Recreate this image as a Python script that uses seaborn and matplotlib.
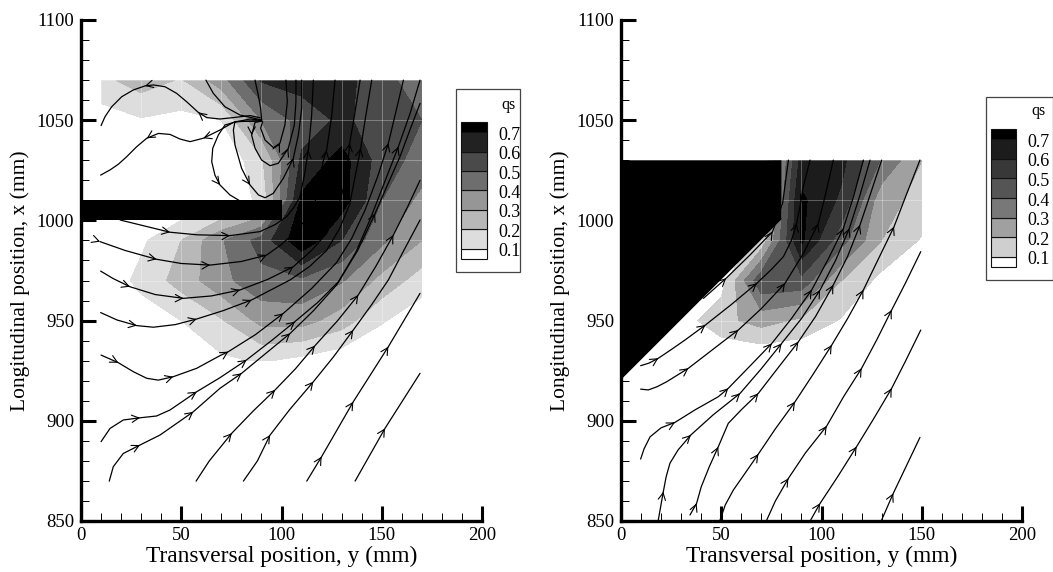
import numpy as np
import matplotlib
matplotlib.use("Agg")
import matplotlib.pyplot as plt
from matplotlib.patches import Polygon, Rectangle
import pandas as pd
import seaborn as sns

levels = [0.0, 0.1, 0.2, 0.3, 0.4, 0.5, 0.6, 0.7, 1.0]
level_labels = ["0.1", "0.2", "0.3", "0.4", "0.5", "0.6", "0.7"]
left_greys = ["#ffffff", "#dddddd", "#b8b8b8", "#969696", "#6e6e6e", "#4a4a4a", "#222222", "#000000"]
right_greys = ["#ffffff", "#cfcfcf", "#a0a0a0", "#787878", "#555555", "#383838", "#1c1c1c", "#000000"]

left_cols = [10, 30, 50, 70, 90, 110, 130, 150, 170]
left_rows = [1070, 1050, 1030, 1010, 990, 970, 950, 930]
left_qs = [
    [.17, .25, .19, .36, .61, .64, .63, .55, .42],
    [.05, .09, .07, .10, .40, .54, .62, .55, .50],
    [.00, .00, .00, .00, .18, .62, .74, .55, .46],
    [.00, .00, .00, .03, .12, .72, .75, .50, .37],
    [.00, .08, .20, .39, .54, .78, .60, .42, .30],
    [.02, .13, .24, .37, .47, .48, .41, .27, .15],
    [.00, .04, .10, .19, .33, .34, .25, .11, .03],
    [.00, .00, .00, .08, .11, .07, .03, .00, .00],
]

right_cols = [10, 30, 50, 70, 90, 110, 130, 150]
right_rows = [1030, 1010, 990, 970, 950, 930]
right_qs = [
    [.00, .00, .00, .00, .64, .63, .39, .20],
    [.00, .00, .00, .00, .72, .58, .235, .17],
    [.00, .00, .00, .12, .72, .44, .20, .09],
    [.00, .00, .05, .48, .47, .20, .07, .02],
    [.00, .05, .17, .24, .18, .09, .02, .00],
    [.00, .00, .00, .00, .00, .00, .00, .00],
]

left_block = [(0, 1000), (100, 1000), (100, 1010), (0, 1010)]
right_block = [(0, 1030), (80, 1030), (80, 1000.5), (0, 920.5)]

# streamlines as (y, x), arrows hold the index of the points that carry a head
left_s1 = [(89.3, 1051.2), (84.3, 1052.3), (76, 1051.3), (69.3, 1050.6), (62.7, 1051.3), (58.5, 1053.9),
           (52.7, 1059.2), (47.7, 1063.4), (41.9, 1066.7), (36.1, 1067.6), (31.9, 1067.1), (26.1, 1065.1),
           (20.3, 1061.7), (15.3, 1056.7), (12, 1051.8), (10, 1047.3)]
left_s2 = [(90.1, 1050), (84.3, 1050.6), (76, 1048.9), (69.3, 1045.1), (61, 1041), (54.4, 1039.3), (49.4, 1040.6),
           (44.4, 1042.9), (38.6, 1043.4), (32.8, 1041), (27.8, 1036.8), (22.8, 1031.8), (18.6, 1028),
           (14.5, 1025.2), (9.8, 1022.6)]
left_s3 = [(90.1, 1049.7), (77.6, 1049.3), (71.8, 1047.6), (68.5, 1042.6), (65.7, 1036), (65.2, 1029.3),
           (66.8, 1022.6), (69.3, 1017.7), (74.3, 1012.7), (79.3, 1009.7)]
left_s4 = [(90.1, 1049.7), (76.8, 1049.3), (76, 1045.1), (76.8, 1037.6), (80.1, 1026), (84.3, 1017.7),
           (88.5, 1012.7), (91.8, 1011.3), (95.9, 1013.5), (100.9, 1021), (105.9, 1031), (108.4, 1042.6),
           (110.1, 1056), (110.1, 1070)]
left_s5 = [(90.1, 1049.5), (86.8, 1048.9), (85.1, 1042.6), (86.8, 1036), (90.1, 1030.1), (94.3, 1027.3),
           (98.4, 1028.5), (103.4, 1036), (106.4, 1047.6), (107.2, 1059.2), (107.2, 1070)]
left_s6 = [(90.6, 1049.3), (89.6, 1046), (91.8, 1040.1), (96, 1036.3), (99.2, 1038.5), (101.7, 1047.6),
           (102.9, 1059.2), (102.2, 1070)]
left_s7 = [(90.1, 1050.1), (79.3, 1052.6), (71.8, 1056.7), (66, 1063.4), (62.3, 1070)]
left_s8 = [(90.1, 1050.1), (89.6, 1055.9), (88.4, 1062.6), (86.8, 1070)]
left_s9 = [(19.5, 1000.2), (44.4, 994.1), (58, 992.8), (74.3, 992.4), (89.3, 994.4), (97, 998), (102.6, 1001.9),
           (106.5, 1007), (109.2, 1011.8), (111.5, 1023), (113.4, 1035.1), (115, 1052), (115.9, 1070)]
left_s10 = [(9.5, 989.4), (22, 985), (37.7, 980.6), (50, 978.5), (64.4, 977.7), (80, 979.5), (92.6, 982.7),
            (100, 988), (105.9, 993.5), (111, 999), (115.9, 1005.2), (118.5, 1017), (120.9, 1030.1),
            (122.5, 1035), (125, 1052), (126.7, 1070)]
left_s11 = [(9.8, 974.7), (16, 971), (24.4, 966.9), (37, 963), (51.1, 961.1), (65, 962.3), (79.3, 965.3),
            (93, 970.5), (105.9, 976.9), (115, 985), (122.5, 993.5), (128, 1006), (132.5, 1021.8), (134, 1038.5),
            (136.5, 1053), (139.2, 1070)]
left_s12 = [(9.8, 954), (18, 950.3), (27.8, 947.5), (36.1, 946.7), (47, 948), (57.7, 950.8), (71, 955),
            (85.1, 960.3), (104.3, 970.3), (114, 977), (122.5, 985), (129, 996), (134, 1008), (139.5, 1036),
            (142, 1052), (145, 1070)]
left_s13 = [(10, 932.8), (18.6, 929), (26.1, 924.5), (32.8, 921.2), (38.6, 920.3), (46, 922), (57.7, 926.2),
            (69.3, 932.5), (73.5, 934.5), (87, 943), (100.9, 953.6), (115, 966), (127.5, 979), (135, 991),
            (141.7, 1005.2), (148, 1022), (153.3, 1038.5), (157, 1054), (160.8, 1070)]
left_s14 = [(10, 889.6), (14.5, 896.2), (21.1, 900.4), (29.4, 901.5), (37.7, 902.4), (44.4, 905.4), (57.7, 914.5),
            (69.3, 921.5), (82.6, 930.4), (95, 940), (106.7, 949.5), (118, 959), (128.4, 969.4), (137, 984),
            (144, 1000), (151, 1018), (158.3, 1036.8), (164, 1053), (169.1, 1070)]
left_s15 = [(14.1, 869.9), (16.1, 877.1), (21.1, 883.7), (29.4, 887.9), (39.4, 892.9), (56, 904.5), (69.3, 916.2),
            (80.1, 923.7), (92, 933.5), (104.3, 943.6), (116, 955), (127.5, 967.8), (138, 985), (146.7, 1003.5),
            (153, 1018), (159.1, 1031.8), (164, 1045), (169.1, 1058.4)]
left_s16 = [(57.4, 869.9), (64, 880), (75.2, 893.8), (86, 905), (96.8, 915.4), (107, 926), (116.7, 937.5),
            (128, 950), (138.3, 962.8), (147, 977), (155.8, 992.7), (163, 1007), (169.1, 1020)]
left_s17 = [(81, 869.9), (88, 880), (94.3, 892.9), (104, 905.5), (115.9, 919.5), (126, 932), (135.8, 945.3),
            (145, 958), (153.3, 970.3), (161, 985), (169.1, 1000.2)]
left_s18 = [(112.6, 869.9), (120, 882.1), (135.8, 909.5), (153.3, 937), (169.1, 963.6)]
left_s19 = [(136.7, 869.9), (151.6, 896.2), (169.1, 923.7)]

left_streams = [left_s1, left_s2, left_s3, left_s4, left_s5, left_s6, left_s7, left_s8, left_s9, left_s10,
                left_s11, left_s12, left_s13, left_s14, left_s15, left_s16, left_s17, left_s18, left_s19]
left_arrows = [[5, 10], [4, 9], [7], [5, 10], [2, 7], [4], [], [], [1, 3, 10], [0, 2, 4, 6, 13], [2, 4, 6, 8, 13],
               [2, 5, 7, 13], [1, 5, 8, 10, 16], [3, 6, 8, 10, 16], [3, 5, 7, 9, 13], [2, 4, 6, 8, 10], [2, 4, 6],
               [1, 2, 3], [1]]

right_s0 = [(41.1, 961.1), (52.4, 971.1), (64.3, 982.7), (75.6, 994.4), (80.6, 1008.5), (83.5, 1030.1)]
right_s1 = [(9.8, 927.5), (14, 928.8), (18.6, 931.2), (25, 935.5), (31.9, 940.3), (42.1, 947.8), (55, 958),
            (67.7, 968.6), (75, 975.5), (81, 981.9), (85, 990), (87.6, 998.5), (89.5, 1008), (90.9, 1016.8),
            (94.3, 1030.1)]
right_s2 = [(9.8, 915.8), (13.6, 915.4), (18, 917), (22.8, 919.5), (33.6, 926.2), (51.9, 940.3), (58.5, 945.3),
            (70, 956), (81.8, 968.6), (91, 983.6), (98.4, 998.5), (102, 1013), (105.9, 1030.1)]
right_s3 = [(9.8, 880.9), (11.5, 886), (14.5, 892), (20, 896.5), (26.9, 899.2), (37, 905.5), (48.5, 912),
            (53.5, 916.2), (64, 927), (75.2, 938.6), (85, 951), (95.1, 965.3), (103, 980), (110.9, 996),
            (116, 1012), (120.9, 1030.1)]
right_s4 = [(18.6, 850.5), (21.1, 864.6), (22.5, 872), (24.4, 878.8), (28.5, 885.5), (34.8, 892.9), (46, 903),
            (59.4, 913.7), (70, 926), (80.1, 938.6), (90, 951), (99.3, 965.3), (107, 980), (113.9, 996),
            (119, 1012), (124.2, 1030.1)]
right_s5 = [(34.4, 853), (37.7, 858.8), (40, 867), (44, 877), (48.5, 887), (53.5, 898.7), (60, 905.5),
            (68.5, 913.7), (78, 926), (88.5, 939.5), (97, 952), (105.9, 967.8), (113, 982), (119.2, 997.7),
            (124, 1012), (130, 1030.1)]
right_s6 = [(49.4, 850.5), (52, 858), (56, 865.4), (62, 874), (68.5, 883.4), (77, 896), (86.8, 909.5),
            (96, 923.5), (105.1, 937.8), (113, 951), (120.9, 965.3), (128, 980), (136.2, 996.9), (142, 1012),
            (149.1, 1030.1)]
right_s7 = [(72.7, 850.5), (77, 860), (83.5, 871.3), (92, 884), (102.6, 897.4), (111, 912), (120, 926.2),
            (127.5, 940.3), (135, 955.3), (142, 969), (149.5, 984.4)]
right_s8 = [(94.6, 850.5), (99.3, 858.8), (108, 872), (117.5, 887.1), (126, 901), (135, 916.2), (142, 930),
            (149.5, 945.3)]
right_s9 = [(130, 850.5), (135.8, 863.8), (149.1, 891.7)]

right_streams = [right_s0, right_s1, right_s2, right_s3, right_s4, right_s5, right_s6, right_s7, right_s8, right_s9]
right_arrows = [[1, 3], [2, 5, 7, 11], [4, 6, 8, 10], [4, 7, 9, 11, 13], [1, 5, 7, 9, 11, 13], [1, 4, 7, 9, 11, 13],
                [4, 6, 8, 10, 12], [2, 4, 6, 8], [1, 3, 5], [1]]

W, H = 1053, 572


def draw_panel(ax, cols, rows, qs, greys, block, streams, arrows):
    ax.patch.set_visible(False)
    ax.contourf(cols, rows, np.array(qs), levels=levels, colors=greys, zorder=1)
    ax.vlines(cols, rows[-1], rows[0], color="white", lw=0.7, alpha=0.3, zorder=2)
    ax.hlines(rows, cols[0], cols[-1], color="white", lw=0.7, alpha=0.3, zorder=2)
    ax.add_patch(Polygon(block, closed=True, fc="black", ec="none", zorder=3))

    for line, heads in zip(streams, arrows):
        df = pd.DataFrame(line, columns=["y", "x"])
        sns.lineplot(data=df, x="y", y="x", sort=False, estimator=None, color="black",
                     lw=0.9, ax=ax, zorder=4)
        for i in heads:
            a = line[max(i - 1, 0)]
            b = line[min(i + 1, len(line) - 1)]
            dy, dx = b[0] - a[0], b[1] - a[1]
            norm = np.hypot(dy, dx)
            tail = (line[i][0] - dy / norm, line[i][1] - dx / norm)
            ax.annotate("", xy=line[i], xytext=tail, zorder=5,
                        arrowprops=dict(arrowstyle="->,head_length=0.42,head_width=0.22",
                                        lw=0.8, color="black", mutation_scale=12,
                                        shrinkA=0, shrinkB=0))

    ax.set_xlim(0, 200)
    ax.set_ylim(850, 1100)
    ax.set_xticks(range(0, 201, 50))
    ax.set_yticks(range(850, 1101, 50))
    ax.set_xticks(range(0, 201, 10), minor=True)
    ax.set_yticks(range(850, 1101, 10), minor=True)
    ax.tick_params(which="major", direction="in", length=11, width=2.2, labelsize=13.5, pad=4, color="black")
    ax.tick_params(which="minor", direction="in", length=6, width=0.7, color="black")
    ax.tick_params(axis="y", pad=5)
    sns.despine(ax=ax)
    for side in ["left", "bottom"]:
        ax.spines[side].set_linewidth(2.4)
    ax.set_xlabel("Transversal position, y (mm)", fontsize=16.8)
    ax.set_ylabel("Longitudinal position, x (mm)", fontsize=15.5)
    ax.xaxis.set_label_coords(0.5, -0.05)
    ax.yaxis.set_label_coords(-0.128, 0.48)


def draw_key(fig, box, bar, greys, qs_pos, label_x):
    fig.add_artist(Rectangle((box[0] / W, 1 - box[3] / H), (box[2] - box[0]) / W, (box[3] - box[1]) / H,
                             transform=fig.transFigure, fc="white", ec="#444444", lw=0.9, zorder=-1))
    key = fig.add_axes([bar[0] / W, 1 - bar[3] / H, (bar[2] - bar[0]) / W, (bar[3] - bar[1]) / H])
    edges = [0.048, 0.1, 0.2, 0.3, 0.4, 0.5, 0.6, 0.7, 0.752]
    key.bar([0] * 8, np.diff(edges), bottom=edges[:-1], width=1, color=greys, edgecolor="#111111", lw=0.8,
            clip_on=False)
    key.set_xlim(-0.5, 0.5)
    key.set_ylim(edges[0], edges[-1])
    key.axis("off")
    for v, text in zip([0.1, 0.2, 0.3, 0.4, 0.5, 0.6, 0.7], level_labels):
        py = bar[3] - (v - edges[0]) / (edges[-1] - edges[0]) * (bar[3] - bar[1]) + 3
        fig.text(label_x / W, 1 - py / H, text, fontsize=13, va="center", ha="left")
    fig.text(qs_pos[0] / W, 1 - qs_pos[1] / H, "qs", fontsize=11.5, va="center", ha="center")


sns.set_theme(style="ticks", rc={"axes.edgecolor": "black", "xtick.color": "black", "ytick.color": "black",
                                 "text.color": "black", "axes.labelcolor": "black"})
plt.rcParams["font.family"] = ["Liberation Serif", "DejaVu Serif"]

fig = plt.figure(figsize=(W / 100, H / 100), dpi=100)
ax1 = fig.add_axes([81 / W, 1 - 521 / H, 401 / W, 501 / H])
ax2 = fig.add_axes([621 / W, 1 - 521 / H, 401 / W, 501 / H])

draw_panel(ax1, left_cols, left_rows, left_qs, left_greys, left_block, left_streams, left_arrows)
draw_panel(ax2, right_cols, right_rows, right_qs, right_greys, right_block, right_streams, right_arrows)

draw_key(fig, (456, 89, 520, 272), (461, 122, 487, 259), left_greys, (509, 105), 498)
draw_key(fig, (986, 97, 1053, 280), (991, 129, 1016, 267), right_greys, (1038, 111), 1027)

fig.savefig("out.png", dpi=100)
